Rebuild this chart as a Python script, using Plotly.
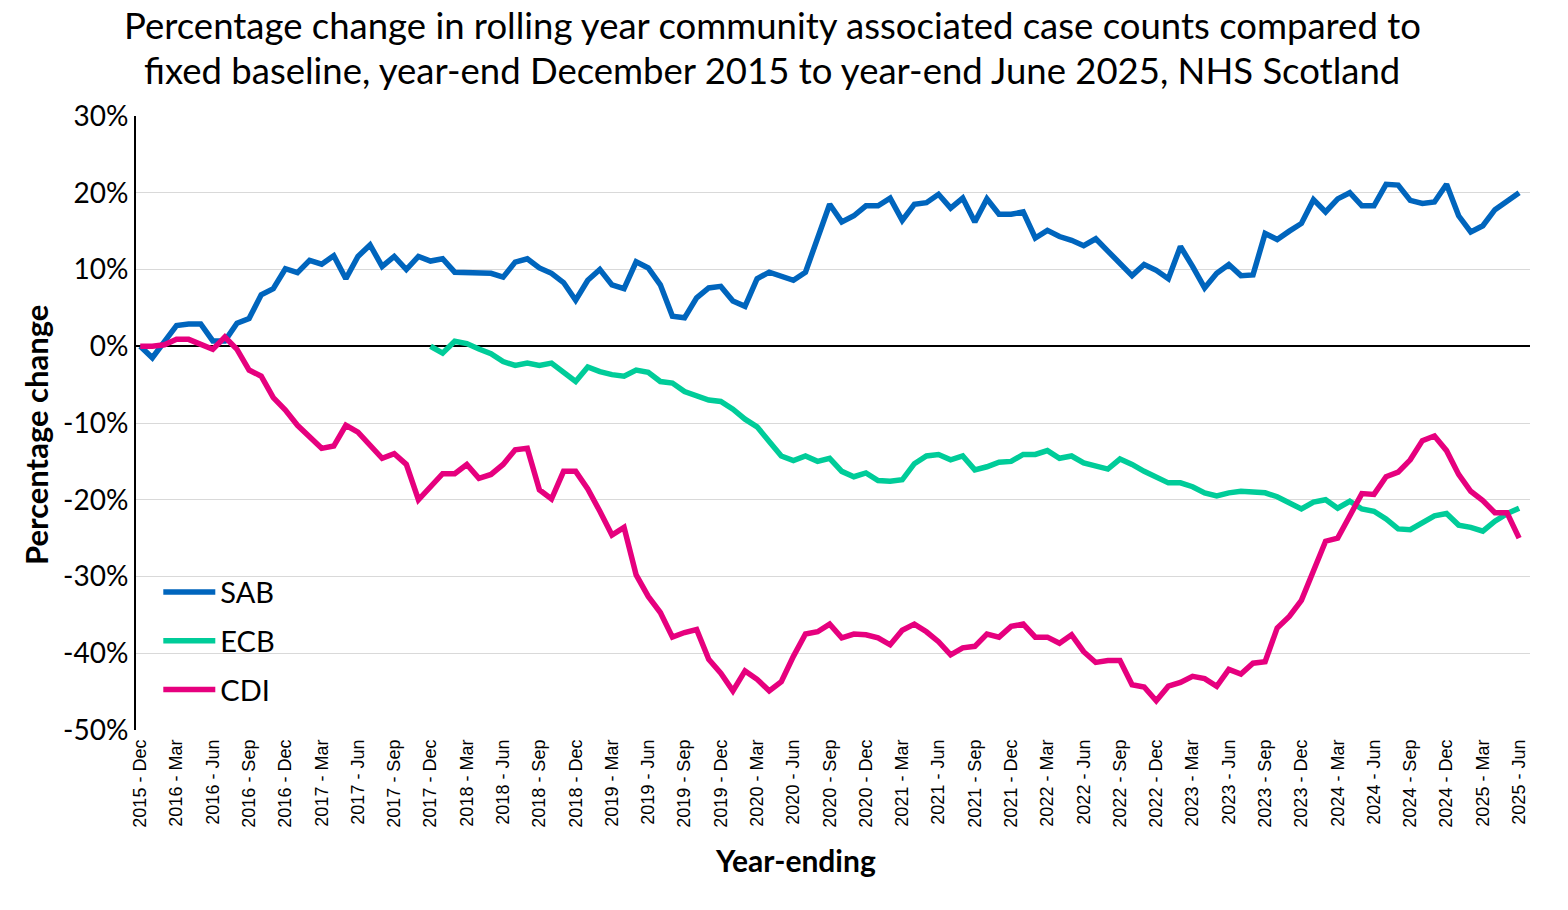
import plotly.graph_objects as go

months = [f"{y} - {m}" for y in range(2015, 2026)
          for m in ["Jan", "Feb", "Mar", "Apr", "May", "Jun", "Jul", "Aug", "Sep", "Oct", "Nov", "Dec"]]
months = months[11:11 + 115]

tick_labels = ["2015 - Dec", "2016 - Mar", "2016 - Jun", "2016 - Sep", "2016 - Dec",
               "2017 - Mar", "2017 - Jun", "2017 - Sep", "2017 - Dec",
               "2018 - Mar", "2018 - Jun", "2018 - Sep", "2018 - Dec",
               "2019 - Mar", "2019 - Jun", "2019 - Sep", "2019 - Dec",
               "2020 - Mar", "2020 - Jun", "2020 - Sep", "2020 - Dec",
               "2021 - Mar", "2021 - Jun", "2021 - Sep", "2021 - Dec",
               "2022 - Mar", "2022 - Jun", "2022 - Sep", "2022 - Dec",
               "2023 - Mar", "2023 - Jun", "2023 - Sep", "2023 - Dec",
               "2024 - Mar", "2024 - Jun", "2024 - Sep", "2024 - Dec",
               "2025 - Mar", "2025 - Jun"]

y_tick_vals = [30, 20, 10, 0, -10, -20, -30, -40, -50]
y_tick_text = ["30%", "20%", "10%", "0%", "-10%", "-20%", "-30%", "-40%", "-50%"]

SAB = [0.0, -1.5, 0.6, 2.7, 2.9, 2.9, 0.7, 0.7, 3.0, 3.6,
       6.7, 7.5, 10.1, 9.6, 11.2, 10.7, 11.8, 8.8, 11.7, 13.2,
       10.4, 11.7, 10.0, 11.7, 11.1, 11.4, 9.65, 9.65, 9.65, 9.5,
       9.0, 10.96, 11.4, 10.2, 9.5, 8.3, 6.0, 8.6, 10.0, 8.0,
       7.5, 11.0, 10.2, 8.0, 3.9, 3.7, 6.3, 7.6, 7.8, 5.9,
       5.2, 8.8, 9.65, 9.2, 8.6, 9.65, 13.9, 18.5, 16.2, 17.0,
       18.3, 18.3, 19.3, 16.4, 18.5, 18.7, 19.8, 18.0, 19.3, 16.2,
       19.2, 17.2, 17.2, 17.5, 14.1, 15.1, 14.3, 13.8, 13.1, 14.0,
       12.4, 10.8, 9.2, 10.65, 9.9, 8.8, 13.0, 10.4, 7.6, 9.5,
       10.65, 9.2, 9.3, 14.7, 13.9, 15.0, 16.0, 19.1, 17.5, 19.2,
       20.0, 18.3, 18.3, 21.1, 21.0, 19.0, 18.6, 18.8, 21.1, 17.0,
       14.9, 15.7, 17.8, 18.9, 20.0]

ECB = [None] * 24 + [
       0.0, -0.9, 0.65, 0.35, -0.35, -0.96, -2.0, -2.5, -2.2, -2.5,
       -2.2, -3.5, -4.6, -2.7, -3.3, -3.7, -3.9, -3.1, -3.4, -4.6,
       -4.8, -5.9, -6.4, -7.0, -7.2, -8.2, -9.5, -10.5, -12.4, -14.3,
       -14.9, -14.3, -15.0, -14.6, -16.3, -17.0, -16.5, -17.5, -17.6, -17.4,
       -15.3, -14.3, -14.1, -14.8, -14.3, -16.1, -15.7, -15.1, -15.0, -14.1,
       -14.1, -13.6, -14.6, -14.3, -15.2, -15.6, -16.0, -14.7, -15.4, -16.3,
       -17.0, -17.8, -17.8, -18.3, -19.1, -19.5, -19.1, -18.9, -19.0, -19.1,
       -19.6, -20.5, -21.2, -20.3, -20.0, -21.1, -20.2, -21.2, -21.5, -22.5,
       -23.8, -23.9, -23.0, -22.1, -21.8, -23.3, -23.6, -24.1, -22.8, -21.8,
       -21.1]

CDI = [0.0, 0.0, 0.2, 0.9, 0.9, 0.3, -0.4, 1.2, -0.4, -3.1,
       -3.9, -6.7, -8.3, -10.3, -11.8, -13.3, -13.0, -10.3, -11.2, -13.0,
       -14.6, -14.0, -15.4, -20.0, -18.3, -16.6, -16.6, -15.4, -17.2, -16.7,
       -15.4, -13.5, -13.3, -18.7, -19.9, -16.3, -16.3, -18.6, -21.5, -24.6,
       -23.6, -29.8, -32.6, -34.7, -37.9, -37.3, -36.9, -40.8, -42.6, -44.9,
       -42.3, -43.4, -44.9, -43.7, -40.4, -37.5, -37.2, -36.2, -38.0, -37.5,
       -37.6, -38.0, -38.9, -37.0, -36.2, -37.2, -38.5, -40.2, -39.3, -39.1,
       -37.5, -37.9, -36.5, -36.2, -37.9, -37.9, -38.7, -37.6, -39.8, -41.2,
       -40.96, -40.96, -44.1, -44.4, -46.2, -44.3, -43.8, -43.0, -43.3, -44.3,
       -42.1, -42.7, -41.3, -41.1, -36.7, -35.2, -33.1, -29.2, -25.4, -25.0,
       -22.2, -19.2, -19.3, -17.0, -16.4, -14.8, -12.3, -11.7, -13.6, -16.7,
       -18.9, -20.1, -21.7, -21.7, -25.0]

title_lines = ["Percentage change in rolling year community associated case counts compared to",
               "fixed baseline, year-end December 2015 to year-end June 2025, NHS Scotland"]

series = [("SAB", SAB, "#0065BD"), ("ECB", ECB, "#00CC99"), ("CDI", CDI, "#E6007E")]

x_idx = list(range(len(months)))
fig = go.Figure()
for name, vals, col in series:
    fig.add_trace(go.Scatter(
        x=x_idx, y=vals, mode="lines", name=name, legendgroup=name,
        line=dict(color=col, width=5.5), customdata=months,
        hovertemplate="%{customdata}: %{y:.1f}%<extra>" + name + "</extra>",
        connectgaps=False))

L, R, T, B = 136, 38, 116, 180
PW, PH = 1568 - L - R, 910 - T - B


def px(xp):
    return (xp - L) / PW


def py(yp):
    return (910 - B - yp) / PH


annotations = [
    dict(text=title_lines[0], showarrow=False, xref="paper", yref="paper",
         x=px(772), y=py(25), xanchor="center", yanchor="middle",
         font=dict(family="Lato", size=36.5, color="black")),
    dict(text=title_lines[1], showarrow=False, xref="paper", yref="paper",
         x=px(772), y=py(70), xanchor="center", yanchor="middle",
         font=dict(family="Lato", size=36.5, color="black")),
    dict(text="<b>Percentage change</b>", textangle=-90, showarrow=False,
         xref="paper", yref="paper", x=px(36), y=py(435),
         xanchor="center", yanchor="middle", font=dict(family="Lato", size=31, color="black")),
    dict(text="<b>Year-ending</b>", showarrow=False,
         xref="paper", yref="paper", x=px(795), y=py(860),
         xanchor="center", yanchor="middle", font=dict(family="Lato", size=30, color="black")),
]

fig.update_layout(
    width=1568, height=910,
    margin=dict(l=L, r=R, t=T, b=B),
    paper_bgcolor="white", plot_bgcolor="white",
    font=dict(family="Lato", color="black"),
    xaxis=dict(range=[-0.35, 114.9], tickmode="array",
               tickvals=[i for i in x_idx if i % 3 == 0], ticktext=tick_labels,
               tickangle=-90, tickfont=dict(family="Liberation Sans", size=18, color="black"),
               ticklabelstandoff=5,
               showgrid=False, zeroline=False, showline=False, ticks=""),
    yaxis=dict(range=[-50, 30], tickmode="array", tickvals=y_tick_vals, ticktext=y_tick_text,
               tickfont=dict(family="Lato", size=28, color="black"),
               showgrid=True, gridcolor="#d9d9d9", gridwidth=1,
               zeroline=True, zerolinecolor="black", zerolinewidth=2,
               showline=True, linecolor="black", linewidth=2, ticks=""),
    showlegend=True,
    legend=dict(x=0.016, y=0.266, xanchor="left", yanchor="top",
                font=dict(family="Lato", size=29, color="black"),
                bgcolor="rgba(0,0,0,0)", traceorder="grouped", tracegroupgap=8,
                itemwidth=52),
    annotations=annotations,
)

fig.write_html("out.html")
